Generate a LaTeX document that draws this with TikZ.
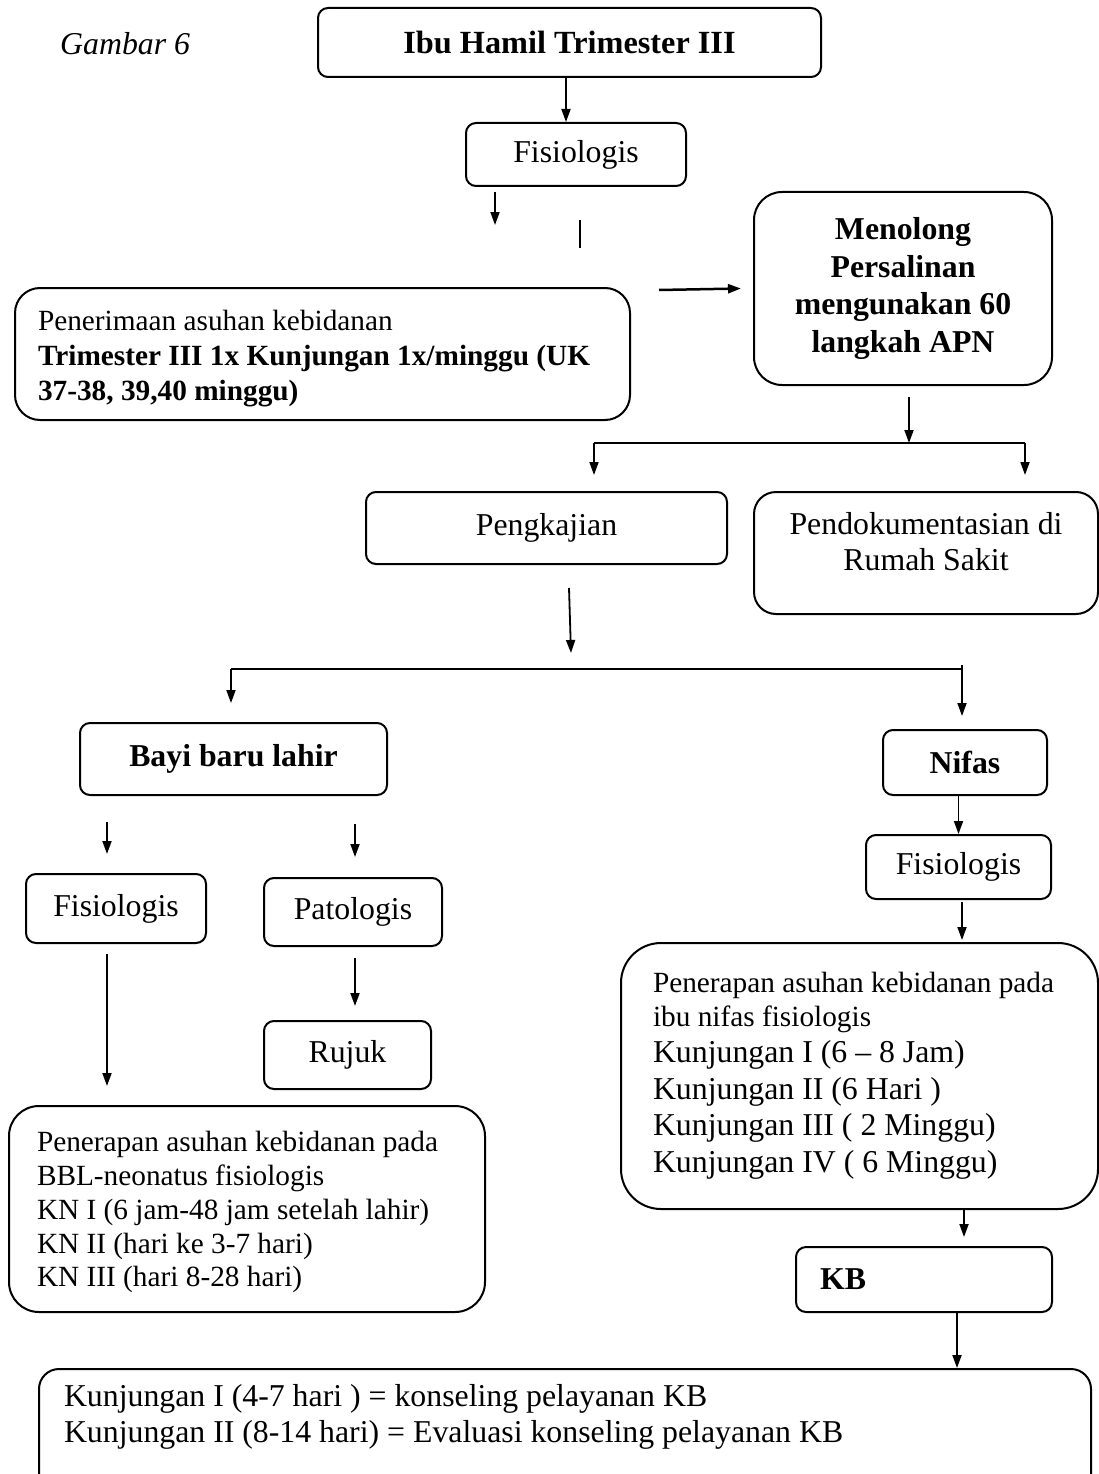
\documentclass[tikz,border=0pt]{standalone}
\usepackage{fontspec}
\setmainfont{Liberation Serif}
\usetikzlibrary{arrows.meta}
\newcommand{\mainfs}{\fontsize{31.8}{36.5}\selectfont}
\newcommand{\smallfs}{\fontsize{29.3}{33.5}\selectfont}
\newcommand{\dropdepth}[1]{\rule[-#1]{0pt}{#1}}
\newcommand{\lifttop}[1]{\rule{0pt}{#1}}
\begin{document}
\begin{tikzpicture}[x=1pt, y=-1pt,
        box/.style={rectangle, draw, line width=2pt, rounded corners=10pt, anchor=north west, font=\mainfs},
        textbox/.style={box, align=flush left, inner ysep=0pt},
        link/.style={line width=1.8pt},
        arr/.style={link, -{Triangle[length=13pt, width=9pt]}}]
        \useasboundingbox (0,0) rectangle (1099,1474);
        \clip (0,0) rectangle (1099,1474);

        \node[anchor=base west, inner sep=0pt, font=\mainfs\itshape] (fig) at (60,55) {Gambar 6};
        \node[box, font=\fontsize{32.3}{36.5}\selectfont\bfseries, minimum width=503pt, minimum height=69pt] (ibu) at (317,7) {Ibu Hamil Trimester III};
        \node[box, minimum width=220pt, minimum height=63pt] (fis1) at (465,122) {Fisiologis};
        \node[box, rounded corners=28pt, align=center, font=\fontsize{31.8}{37.5}\selectfont\bfseries, minimum width=298pt, minimum height=193pt] (men) at (753,191) {Menolong\\Persalinan\\mengunakan 60\\langkah APN};
        \node[textbox, rounded corners=25pt, font=\fontsize{29.3}{35}\selectfont, inner xsep=23pt, text width=569pt, minimum height=132pt] (pen) at (14,287) {\lifttop{29pt}Penerimaan asuhan kebidanan\\\textbf{Trimester III 1x Kunjungan 1x/minggu (UK}\\\textbf{37-38, 39,40 minggu)}};
        \node[box, minimum width=361pt, minimum height=72pt] (peng) at (365,491) {Pengkajian};
        \node[box, rounded corners=22pt, align=center, minimum width=344pt, minimum height=122pt] (dok) at (753,491) {Pendokumentasian di\\Rumah Sakit\dropdepth{23pt}};
        \node[box, font=\mainfs\bfseries, minimum width=307pt, minimum height=72pt] (bayi) at (79,722) {Bayi baru lahir};
        \node[box, font=\mainfs\bfseries, minimum width=164pt, minimum height=65pt] (nifas) at (882,729) {Nifas};
        \node[box, minimum width=180pt, minimum height=69pt] (fis2) at (25,873) {Fisiologis};
        \node[box, minimum width=178pt, minimum height=68pt] (pat) at (263,877) {Patologis};
        \node[box, minimum width=185pt, minimum height=64pt] (fis3) at (865,834) {Fisiologis};
        \node[box, minimum width=167pt, minimum height=68pt] (rujuk) at (263,1020) {Rujuk};
        \node[textbox, rounded corners=40pt, inner xsep=32pt, text width=413pt, minimum height=266pt] (nb) at (620,942) {\smallfs Penerapan asuhan kebidanan pada\\ibu nifas fisiologis\\\mainfs Kunjungan I (6 -- 8 Jam)\\Kunjungan II (6 Hari )\\Kunjungan III ( 2 Minggu)\\Kunjungan IV ( 6 Minggu)};
        \node[textbox, rounded corners=30pt, font=\fontsize{29.3}{33.7}\selectfont, inner xsep=28pt, text width=420pt, minimum height=206pt] (bbl) at (8,1105) {\lifttop{27pt}Penerapan asuhan kebidanan pada\\BBL-neonatus fisiologis\\KN I (6 jam-48 jam setelah lahir)\\KN II (hari ke 3-7 hari)\\KN III (hari 8-28 hari)};
        \node[textbox, font=\mainfs\bfseries, inner xsep=24pt, text width=208pt, minimum height=65pt] (kb) at (795,1246) {KB};
        \node[textbox, rounded corners=20pt, inner xsep=25pt, inner ysep=15pt, text width=1002pt] (bot) at (38,1368) {Kunjungan I (4-7 hari ) = konseling pelayanan KB\\Kunjungan II (8-14 hari) = Evaluasi konseling pelayanan KB\dropdepth{45pt}};

        \coordinate (ix) at (566,0);
        \coordinate (f1a) at (495,192);
        \coordinate (f1b) at (495,225);
        \coordinate (f2a) at (580,220);
        \coordinate (f2b) at (580,248);
        \coordinate (pm) at (659,290);
        \coordinate (mb) at (909,397);
        \coordinate (b1) at (909,443);
        \coordinate (bl) at (594,443);
        \coordinate (br) at (1025,443);
        \coordinate (bla) at (594,475);
        \coordinate (bra) at (1025,475);
        \coordinate (pa) at (569,588);
        \coordinate (pb) at (571,653);
        \coordinate (cl) at (231,669);
        \coordinate (cr) at (962,669);
        \coordinate (ct) at (962,665);
        \coordinate (cla) at (231,703);
        \coordinate (cra) at (962,716);
        \coordinate (ba1) at (107,822);
        \coordinate (ba2) at (107,854);
        \coordinate (bb1) at (355,824);
        \coordinate (bb2) at (355,857);
        \coordinate (fa1) at (107,954);
        \coordinate (fa2) at (107,1086);
        \coordinate (pr1) at (355,958);
        \coordinate (pr2) at (355,1006);
        \coordinate (fn1) at (962,902);
        \coordinate (fn2) at (962,940);
        \coordinate (nk1) at (964,1208);
        \coordinate (nk2) at (964,1237);
        \coordinate (kx) at (957,0);

        \draw[arr] (ibu.south -| ix) -- (fis1.north -| ix);
        \draw[arr] (f1a) -- (f1b);
        \draw[link] (f2a) -- (f2b);
        \draw[arr, line width=2.5pt] (pm) -- ([xshift=-12pt]men.west);
        \draw[arr] (mb) -- (b1);
        \draw[link] (bl) -- (br);
        \draw[arr] (bl) -- (bla);
        \draw[arr] (br) -- (bra);
        \draw[arr] (pa) -- (pb);
        \draw[link] (cl) -- (cr);
        \draw[arr] (cl) -- (cla);
        \draw[arr] (ct) -- (cra);
        \draw[arr] (ba1) -- (ba2);
        \draw[arr] (bb1) -- (bb2);
        \draw[arr] (fa1) -- (fa2);
        \draw[arr] (pr1) -- (pr2);
        \draw[arr] (fis3.north |- nifas.south) -- (fis3.north);
        \draw[arr] (fn1) -- (fn2);
        \draw[arr] (nk1) -- (nk2);
        \draw[arr] (kb.south -| kx) -- (bot.north -| kx);
\end{tikzpicture}
\end{document}
